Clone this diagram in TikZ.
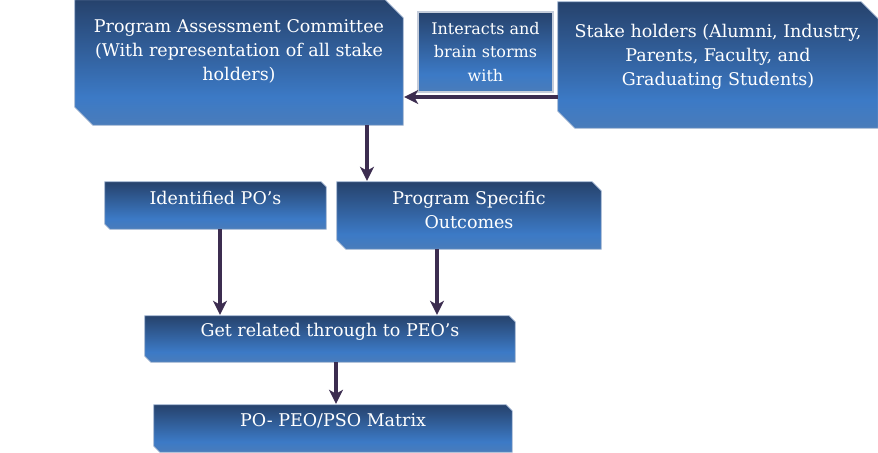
\documentclass[tikz,border=0pt]{standalone}
\usepackage{fontspec}
\setmainfont{DejaVu Serif}
\usetikzlibrary{arrows.meta}

\definecolor{shadeTop}{RGB}{38,66,108}
\definecolor{shadeMid}{RGB}{60,122,198}
\definecolor{shadeBot}{RGB}{74,124,186}
\definecolor{edgeink}{RGB}{150,172,204}
\definecolor{frameink}{RGB}{196,204,218}
\definecolor{arrowink}{RGB}{60,45,80}

% dark navy at the top, bright blue band near the bottom
\pgfdeclareverticalshading{panelfill}{100bp}{%
  color(0bp)=(shadeBot); color(25bp)=(shadeBot);
  color(36bp)=(shadeMid); color(75bp)=(shadeTop); color(100bp)=(shadeTop)}

% shaded outline of a node with its top-right and bottom-left corners cut off
\newcommand\snipfill[2]{%
  \shade[shading=panelfill, draw=edgeink, line width=0.8bp]
    (#1.north west) -- ([xshift=-#2]#1.north east) -- ([yshift=-#2]#1.north east)
    -- (#1.south east) -- ([xshift=#2]#1.south west) -- ([yshift=#2]#1.south west)
    -- cycle;}

\tikzset{
  slot/.style={rectangle, inner sep=0pt},
  plainbox/.style={rectangle, shading=panelfill, draw=frameink,
    line width=1.5bp, inner sep=0pt},
  boxtext/.style={text=white, align=center, inner sep=0pt,
    font=\fontsize{17.5bp}{24bp}\selectfont},
  smalltext/.style={boxtext, font=\fontsize{16bp}{23.5bp}\selectfont},
  flow/.style={draw=arrowink, line width=4.5bp,
    -{Stealth[width=14bp,length=14bp,inset=4bp]}, shorten >=1bp},
}

\begin{document}
\begin{tikzpicture}[x=1bp,y=-1bp]
  \useasboundingbox[fill=white] (0,0) rectangle (878,453);

  % box frames
  \node[slot, minimum width=328bp, minimum height=125bp] (pac) at (239,62.5) {};
  \node[plainbox, minimum width=135bp, minimum height=80bp] (inter) at (485.5,52) {};
  \node[slot, minimum width=320bp, minimum height=126bp] (sh) at (718,65) {};
  \node[slot, minimum width=221bp, minimum height=47bp] (po) at (215.5,205.5) {};
  \node[slot, minimum width=264bp, minimum height=67bp] (pso) at (469,215.5) {};
  \node[slot, minimum width=370bp, minimum height=46bp] (peo) at (330,339) {};
  \node[slot, minimum width=358bp, minimum height=47bp] (mat) at (333,428.5) {};

  \snipfill{pac}{18bp}
  \snipfill{sh}{17bp}
  \snipfill{po}{5bp}
  \snipfill{pso}{9bp}
  \snipfill{peo}{6bp}
  \snipfill{mat}{6bp}

  % labels
  \node[boxtext] (pact) at ([yshift=-52bp]pac.north)
    {Program Assessment Committee\\(With representation of all stake\\holders)};
  \node[smalltext] (intert) at (inter.center) {Interacts and\\brain storms\\with};
  \node[boxtext] (sht) at ([yshift=-55bp]sh.north)
    {Stake holders (Alumni, Industry,\\Parents, Faculty, and\\Graduating Students)};
  \node[boxtext] (pot) at ([yshift=-16bp]po.north) {Identified PO’s};
  \node[boxtext] (psot) at ([yshift=-28bp]pso.north) {Program Specific\\Outcomes};
  \node[boxtext] (peot) at ([yshift=-16bp]peo.north) {Get related through to PEO’s};
  \node[boxtext] (matt) at ([yshift=-16bp]mat.north) {PO- PEO/PSO Matrix};

  % connectors
  \draw[flow] (sh.west |- 0,97) -- (pac.east |- 0,97);
  \draw[flow] (pac.south -| 367,0) -- (pso.north -| 367,0);
  \draw[flow] (po.south -| 220,0) -- (peo.north -| 220,0);
  \draw[flow] (pso.south -| 437,0) -- (peo.north -| 437,0);
  \draw[flow] (peo.south -| 336,0) -- (mat.north -| 336,0);
\end{tikzpicture}
\end{document}
